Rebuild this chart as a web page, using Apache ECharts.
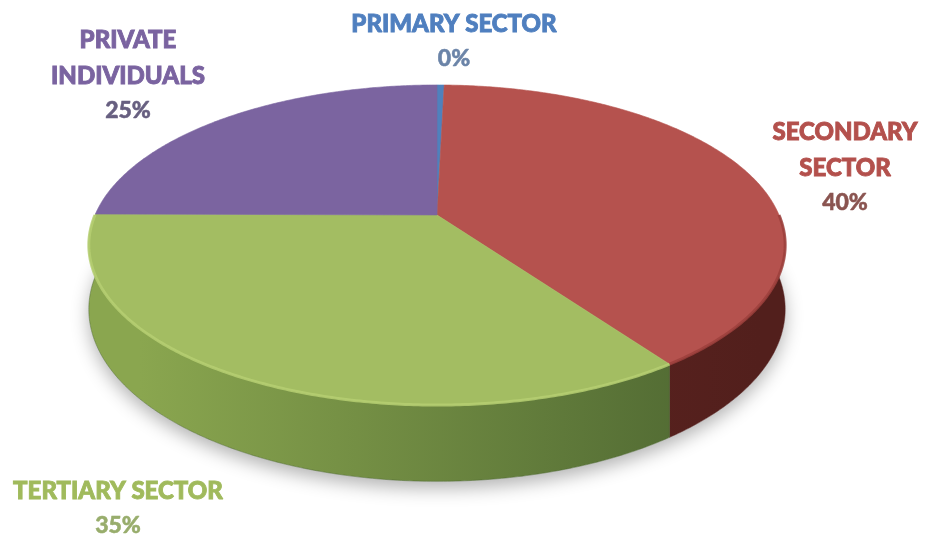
<!DOCTYPE html>
<html>
<head>
<meta charset="utf-8">
<script src="https://cdn.jsdelivr.net/npm/echarts@6/dist/echarts.min.js"></script>
<style>
  html, body { margin: 0; padding: 0; background: #ffffff; }
  #chart { width: 928px; height: 541px; }
</style>
</head>
<body>
<div id="chart"></div>
<script>
// Share of each sector (percent), clockwise from 12 o'clock
const categories = ['PRIMARY SECTOR', 'SECONDARY\nSECTOR', 'TERTIARY SECTOR', 'PRIVATE\nINDIVIDUALS'];
const shares = [0.4, 40, 35, 25];

// Colours: top face, side gradient (left -> right), rim highlight, label name, label percent
const topColors = ['#4f81bd', '#b5524e', '#a3bd62', '#7b64a0'];
const sideColors = [['#3e6696', '#2f4e74'], ['#6a2a26', '#521f1c'], ['#8aa64f', '#4b6430'], ['#5e4a7c', '#4a3a62']];
const rimColors = ['#6a98d0', '#9c403c', '#b6cf72', '#8a74ad'];
const nameColors = ['#4f7fbf', '#b3504c', '#a0ba5c', '#7a63a0'];
const pctColors = ['#6b84a8', '#8a5450', '#98ad6c', '#675f80'];

// Label anchor (centre x, centre y of first line) for each category
const labelAnchors = [[454, 24], [845, 132], [118, 491], [128, 40]];
const LINE_GAP = 36;

// Tilted-disc projection parameters
const CX = 437, CY = 215, RX = 342, RY = 154.4, K = -0.1875, DEPTH = 62;
const TAU = Math.PI * 2;

const total = shares.reduce((a, b) => a + b, 0);
const starts = [];
shares.reduce((acc, v, i) => { starts[i] = acc; return acc + v; }, 0);

function proj(phi, drop) {
  const c = Math.sin(phi), s = -Math.cos(phi);
  const d = 1 + K * s;
  return [CX + RX * c / d, CY + RY * s / d + (drop ? DEPTH / d : 0)];
}

function arc(a0, a1, drop) {
  const pts = [];
  const n = Math.max(2, Math.ceil((a1 - a0) / 0.01));
  for (let j = 0; j <= n; j++) pts.push(proj(a0 + (a1 - a0) * j / n, drop));
  return pts;
}

function renderItem(params, api) {
  const i = params.dataIndex;
  const v = api.value(0);
  const a0 = starts[i] / total * TAU;
  const a1 = (starts[i] + v) / total * TAU;
  const children = [];

  if (i === 0) {
    // soft drop shadow under the whole disc
    children.push({
      type: 'polygon', z2: -5,
      shape: { points: arc(0, TAU, true) },
      style: { fill: '#ffffff', shadowBlur: 18, shadowColor: 'rgba(0,0,0,0.3)', shadowOffsetY: 7 }
    });
  }

  // visible rim (front half)
  const f0 = Math.max(a0, Math.PI / 2), f1 = Math.min(a1, Math.PI * 1.5);
  if (f1 > f0) {
    const top = arc(f0, f1, false);
    const bottom = arc(f0, f1, true).reverse();
    children.push({
      type: 'polygon', z2: 1,
      shape: { points: top.concat(bottom) },
      style: {
        fill: {
          type: 'linear', global: true, x: 140, y: 0, x2: 760, y2: 0,
          colorStops: [{ offset: 0, color: sideColors[i][0] }, { offset: 1, color: sideColors[i][1] }]
        },
        stroke: sideColors[i][1], lineWidth: 0.5
      }
    });
    children.push({
      type: 'polyline', z2: 12,
      shape: { points: arc(f0, f1, false) },
      style: { stroke: rimColors[i], lineWidth: 3, fill: null, opacity: 0.85 }
    });
  }

  // top face
  children.push({
    type: 'polygon', z2: 10,
    shape: { points: [[CX, CY]].concat(arc(a0, a1, false)) },
    style: { fill: topColors[i], stroke: topColors[i], lineWidth: 0.6 }
  });

  return { type: 'group', children: children };
}

// Text labels: name lines then the rounded percentage
const graphics = [];
categories.forEach((name, i) => {
  const lines = name.split('\n');
  const [x, y] = labelAnchors[i];
  lines.forEach((line, j) => {
    graphics.push({
      type: 'text', x: x, y: y + j * LINE_GAP,
      style: {
        text: line, x: 0, y: 0, textAlign: 'center', textVerticalAlign: 'middle',
        fill: nameColors[i], stroke: nameColors[i], lineWidth: 0.9,
        font: '900 24px Lato, "Open Sans", sans-serif'
      }
    });
  });
  graphics.push({
    type: 'text', x: x, y: y + lines.length * LINE_GAP - 1,
    style: {
      text: Math.round(shares[i] / total * 100) + '%', x: 0, y: 0,
      textAlign: 'center', textVerticalAlign: 'middle',
      fill: pctColors[i], stroke: pctColors[i], lineWidth: 0.5,
      font: '900 23px Lato, "Open Sans", sans-serif'
    }
  });
});

const chart = echarts.init(document.getElementById('chart'), null, { renderer: 'canvas' });
chart.setOption({
  animation: false,
  backgroundColor: '#ffffff',
  series: [{
    type: 'custom',
    coordinateSystem: 'none',
    renderItem: renderItem,
    data: shares.map((v, i) => ({ name: categories[i], value: [v] }))
  }],
  graphic: graphics
});
</script>
</body>
</html>
